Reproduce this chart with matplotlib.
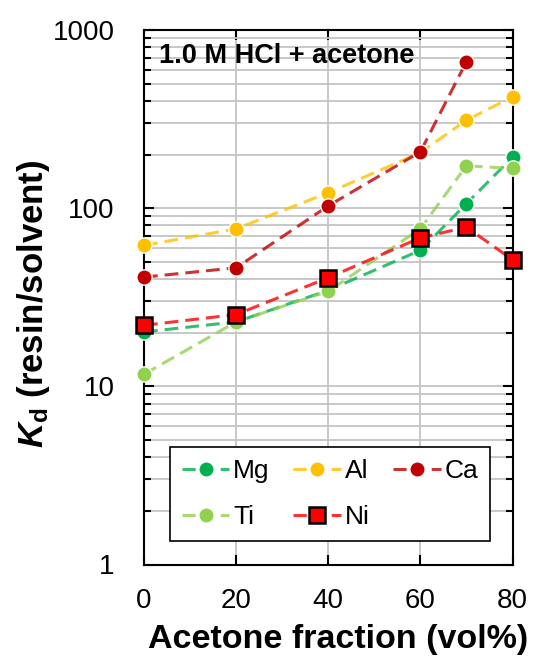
import matplotlib
matplotlib.use("Agg")
import matplotlib.pyplot as plt
from matplotlib.colors import to_rgba
from matplotlib.lines import Line2D
from matplotlib.ticker import LogLocator, NullFormatter, FixedLocator

plt.rcParams['font.family'] = ['Liberation Sans', 'DejaVu Sans']
plt.rcParams['mathtext.fontset'] = 'custom'
plt.rcParams['mathtext.it'] = 'Liberation Sans:italic:bold'
plt.rcParams['mathtext.rm'] = 'Liberation Sans'
plt.rcParams['mathtext.bf'] = 'Liberation Sans:bold'

# Acetone fraction (vol%)
acetone = [0, 20, 40, 60, 70, 80]

# Distribution coefficients Kd (resin/solvent)
kd_mg = [20.2, 23.0, 34.6, 58.0, 106, 193]
kd_al = [61.8, 76.6, 122, 205, 312, 421]
kd_ca = [41.0, 46.3, 103, 207, 664, None]
kd_ti = [11.7, 23.0, 34.2, 76.6, 173, 167]
kd_ni = [22.0, 25.3, 40.7, 68.2, 78.2, 51.4]

xticks = [0, 20, 40, 60, 80]
yticks = [1, 10, 100, 1000]
ytick_labels = ['1', '10', '100', '1000']

series = [
    ("Mg", kd_mg, "#00B050", "o"),
    ("Al", kd_al, "#FFC000", "o"),
    ("Ca", kd_ca, "#C00000", "o"),
    ("Ti", kd_ti, "#92D050", "o"),
    ("Ni", kd_ni, "#FF0000", "s"),
]

LW = 2.2

def marker_style(color, mk):
    if mk == "s":
        return dict(marker='s', markersize=12, markerfacecolor=color,
                    markeredgecolor='black', markeredgewidth=1.8)
    return dict(marker='o', markersize=11, markerfacecolor=color,
                markeredgecolor='white', markeredgewidth=1.0)

fig = plt.figure(figsize=(5.37, 6.62), dpi=100)
ax = fig.add_axes([144 / 537, 1 - 564.5 / 662, 368.5 / 537, 534.5 / 662])

handles = {}
for name, vals, color, mk in series:
    xs = [x for x, v in zip(acetone, vals) if v is not None]
    ys = [v for v in vals if v is not None]
    line_col = to_rgba(color, 0.8)
    ax.plot(xs, ys, linestyle=(0, (4.5, 2.3)), color=line_col,
            linewidth=LW, zorder=5 if mk == "s" else 4, clip_on=False,
            **marker_style(color, mk))
    handles[name] = Line2D([], [], linestyle=(0, (4.3, 8.2)), color=line_col,
                           linewidth=LW, **marker_style(color, mk), label=name)

# three columns filled row by row: Mg Al Ca / Ti Ni
order = ["Mg", "Ti", "Al", "Ni", "Ca"]
leg = ax.legend(handles=[handles[n] for n in order], ncol=3, loc='upper left',
                bbox_to_anchor=((170 - 144) / 368.5, (564.5 - 447) / 534.5),
                frameon=True, fancybox=False, edgecolor='black',
                framealpha=1, fontsize=19, handlelength=1.8, numpoints=1,
                handletextpad=0.14, columnspacing=0.9, borderpad=0.45,
                labelspacing=0.84, borderaxespad=0)
leg.get_frame().set_linewidth(1.2)
leg.set_zorder(6)

ax.set_yscale('log')
ax.set_xlim(0, 80)
ax.set_ylim(1, 1000)
ax.xaxis.set_major_locator(FixedLocator(xticks))
ax.set_xticklabels([str(t) for t in xticks])
ax.yaxis.set_major_locator(FixedLocator(yticks))
ax.set_yticklabels(ytick_labels)
ax.yaxis.set_minor_locator(LogLocator(base=10, subs=range(2, 10)))
ax.yaxis.set_minor_formatter(NullFormatter())

ax.grid(True, which='major', axis='both', color='#c4c4c4', linewidth=1.3, zorder=0)
ax.grid(True, which='minor', axis='y', color='#c4c4c4', linewidth=1.3, zorder=0)
ax.set_axisbelow(True)

ax.tick_params(which='both', direction='in', top=True, right=True,
               labelsize=20, width=1.5)
ax.tick_params(axis='x', which='both', pad=17)
ax.tick_params(axis='y', which='both', pad=21)
ax.tick_params(which='major', length=7)
ax.tick_params(which='minor', length=5)
for s in ax.spines.values():
    s.set_linewidth(1.5)
    s.set_color('black')

ax.set_xlabel('Acetone fraction (vol%)', fontsize=24.5, fontweight='bold')
ax.set_ylabel(r'$K_\mathregular{d}$ (resin/solvent)', fontsize=25,
              fontweight='bold')
ax.xaxis.set_label_coords((338 - 144) / 368.5, (564.5 - 624) / 534.5)
ax.xaxis.label.set_va('top')
ax.yaxis.set_label_coords((52 - 144) / 368.5, (564.5 - 303.5) / 534.5)

ax.text((159 - 144) / 368.5, (564.5 - 63.3) / 534.5, '1.0 M HCl + acetone',
        transform=ax.transAxes, fontsize=19.5, fontweight='bold',
        ha='left', va='baseline', zorder=6)

fig.savefig('out.png', dpi=100)
